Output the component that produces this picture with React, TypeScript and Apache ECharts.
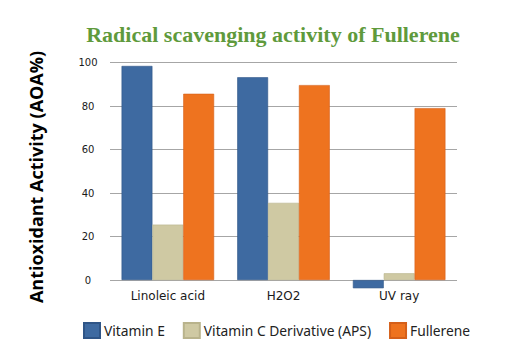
import React, { useEffect, useRef } from "react";
import * as echarts from "echarts";

const categories = ["Linoleic acid", "H2O2", "UV ray"];
const vitaminE = [98.5, 93.3, -3.8];
const vitaminC = [25.5, 35.5, 3.1];
const fullerene = [85.7, 89.7, 79.1];
const seriesNames = ["Vitamin E", "Vitamin C Derivative (APS)", "Fullerene"];
const colors = ["#3e6aa1", "#cfc9a3", "#ee731f"];
const borderColors = ["#2f5587", "#b9b38c", "#d5601a"];

export default function App() {
  const ref = useRef<HTMLDivElement>(null);
  useEffect(() => {
    if (!ref.current) return;
    const chart = echarts.init(ref.current, undefined, { renderer: "svg" });
    const values = [vitaminE, vitaminC, fullerene];
    chart.setOption({
      animation: false,
      backgroundColor: "#ffffff",
      title: {
        text: "Radical scavenging activity of Fullerene",
        left: 268,
        textAlign: "center",
        top: 18,
        textStyle: {
          fontFamily: "Liberation Serif",
          fontWeight: "bold",
          fontSize: 22,
          color: "#5f9a3c",
        },
      },
      graphic: [
        {
          type: "text",
          x: 36,
          y: 177,
          rotation: Math.PI / 2,
          style: {
            text: "Antioxidant Activity (AOA%)",
            fontFamily: "Open Sans",
            fontWeight: "bold",
            fontSize: 18,
            fill: "#000000",
            align: "center",
            verticalAlign: "middle",
          },
        },
      ],
      legend: {
        left: 78,
        top: 317,
        itemWidth: 16,
        itemHeight: 15,
        itemGap: 18,
        icon: "rect",
        data: seriesNames,
        textStyle: {
          fontFamily: "Noto Sans",
          fontSize: 13.8,
          color: "#222222",
          padding: [0, 0, 0, -1],
        },
      },
      grid: {
        left: 110,
        right: 50,
        top: 62.7,
        bottom: 80,
      },
      xAxis: {
        type: "category",
        data: categories,
        axisLine: { show: false },
        axisTick: { show: false },
        axisLabel: {
          fontFamily: "DejaVu Sans",
          fontSize: 12,
          color: "#1a1a1a",
          margin: 10,
        },
      },
      yAxis: {
        type: "value",
        min: 0,
        max: 100,
        interval: 20,
        axisLine: { show: false },
        axisTick: { show: false },
        splitLine: { lineStyle: { color: "#a6a6a6", width: 1 } },
        axisLabel: {
          fontFamily: "DejaVu Sans",
          fontSize: 10,
          color: "#1a1a1a",
          align: "center",
          margin: 22,
        },
      },
      series: seriesNames.map((name, i) => ({
        name,
        type: "bar",
        data: values[i],
        clip: false,
        barGap: "0%",
        barCategoryGap: "20%",
        itemStyle: {
          color: colors[i],
          borderColor: borderColors[i],
          borderWidth: 0.6,
        },
      })),
    });
    return () => chart.dispose();
  }, []);
  return (
    <div
      ref={ref}
      style={{ position: "absolute", left: 0, top: 0, width: 507, height: 360 }}
    />
  );
}
